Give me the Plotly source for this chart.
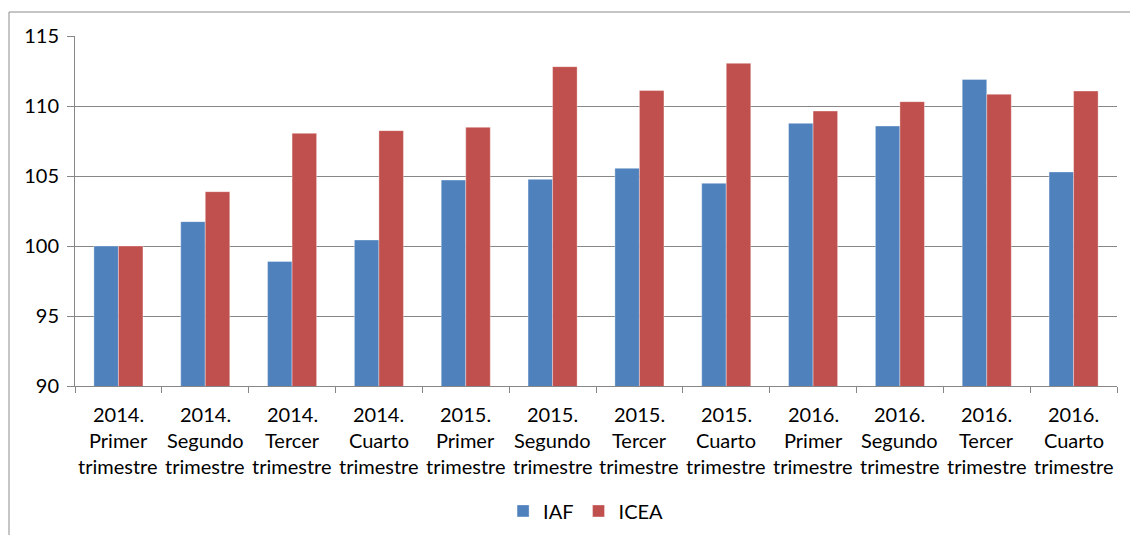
import plotly.graph_objects as go

years = ["2014.", "2014.", "2014.", "2014.", "2015.", "2015.", "2015.", "2015.",
         "2016.", "2016.", "2016.", "2016."]
quarters = ["Primer", "Segundo", "Tercer", "Cuarto"] * 3
suffix = "trimestre"
categories = [f"{y} {q} {suffix}" for y, q in zip(years, quarters)]

iaf = [100.0, 101.74, 98.9, 100.43, 104.71, 104.76, 105.55, 104.48, 108.76, 108.57, 111.9, 105.29]
icea = [100.0, 103.88, 108.05, 108.24, 108.48, 112.81, 111.1, 113.05, 109.64, 110.31, 110.84, 111.07]

y_ticks = [90, 95, 100, 105, 110, 115]

FONT = "Lato"
GRID = "#878787"

fig = go.Figure()
fig.add_trace(go.Bar(name="IAF", x=categories, y=iaf,
                     marker=dict(color="#4F81BD", line=dict(color="rgba(255,255,255,0.45)", width=0.8))))
fig.add_trace(go.Bar(name="ICEA", x=categories, y=icea,
                     marker=dict(color="#C0504D", line=dict(color="rgba(255,255,255,0.45)", width=0.8))))

annotations = []
line_y = [-0.08, -0.154, -0.2286]
for cat, y, q in zip(categories, years, quarters):
    for txt, py in zip([y, q, suffix], line_y):
        annotations.append(dict(x=cat, xref="x", y=py, yref="paper", text=txt,
                                showarrow=False, xanchor="center", yanchor="middle",
                                font=dict(family=FONT, size=20, color="#000000")))

fig.update_layout(
    width=1130, height=535,
    margin=dict(l=75, r=13, t=36, b=149, autoexpand=False),
    paper_bgcolor="white", plot_bgcolor="white",
    barmode="group", bargap=0.435, bargroupgap=0,
    font=dict(family=FONT, size=20, color="#000000"),
    showlegend=True,
    legend=dict(orientation="h", x=0.49, xanchor="center", y=-0.357, yanchor="middle",
                font=dict(family=FONT, size=20), itemwidth=30, bgcolor="rgba(0,0,0,0)"),
    annotations=annotations,
    shapes=[dict(type="rect", xref="paper", yref="paper",
                 x0=(9 - 75) / 1042, x1=1.1, y0=-0.7, y1=(386 - 12) / 350,
                 line=dict(color="#8C8C8C", width=1), layer="below")],
)
fig.update_xaxes(type="category", showticklabels=False, tickson="boundaries",
                 ticks="outside", ticklen=6, tickcolor=GRID, tickwidth=1,
                 showline=True, linecolor=GRID, linewidth=1, showgrid=False)
fig.update_yaxes(range=[90, 115], tickvals=y_ticks, ticks="outside", ticklen=7,
                 tickcolor=GRID, tickwidth=1, showline=True, linecolor=GRID, linewidth=1,
                 showgrid=True, gridcolor=GRID, gridwidth=1, zeroline=False,
                 tickfont=dict(family=FONT, size=20), ticklabelstandoff=4)

fig.write_html("out.html", config={"displayModeBar": False},
               post_script="document.body.style.margin='0';document.body.style.overflow='hidden';")
